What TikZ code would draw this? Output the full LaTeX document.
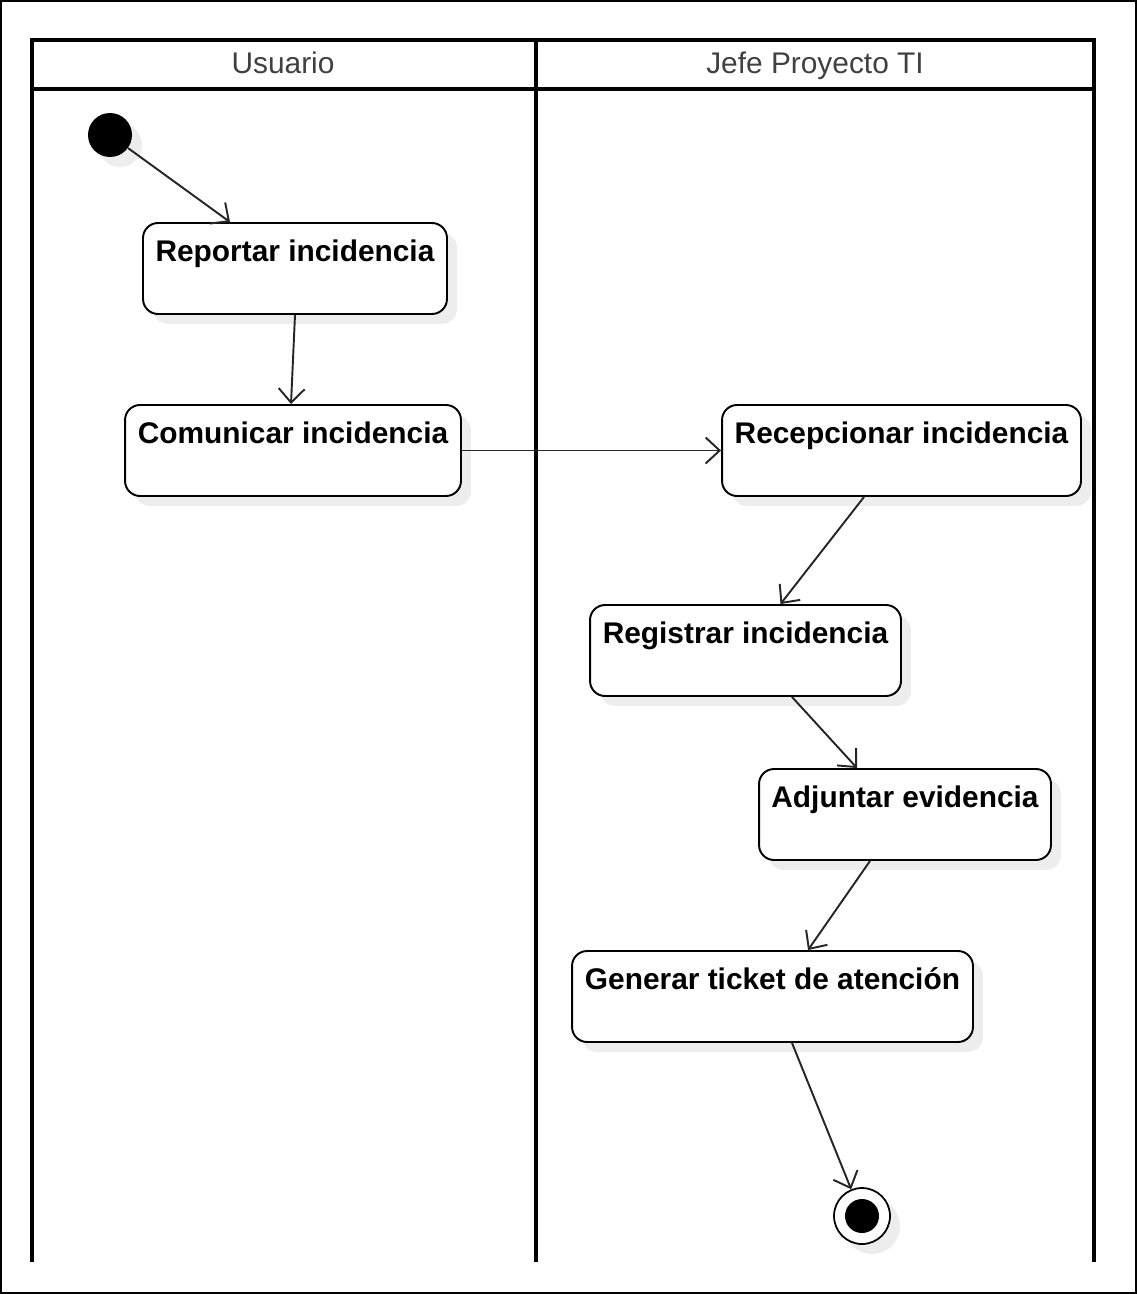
\documentclass[tikz,border=0pt]{standalone}
\usepackage{fontspec}
\setmainfont{Liberation Sans}
\usetikzlibrary{arrows.meta, positioning, shadows}

\tikzset{
	shade-box/.style={drop shadow={shadow xshift=0.2cm, shadow yshift=-0.2cm, fill=black!7, opacity=1}},
	act/.style={shape=rectangle, draw, rounded corners=0.3cm, line width=1.1pt, fill=white, minimum height=1.82cm, shade-box},
	act-text/.style={anchor=north, inner sep=0pt, yshift=-10pt, font=\fontsize{17}{20}\selectfont\bfseries},
	lane/.style={line width=2pt},
	lane-title/.style={font=\fontsize{17}{20}\selectfont, text=black!75, text height=12pt, text depth=3.5pt},
	flow/.style={line width=1.1pt, draw=black!85, -{Straight Barb[length=0.28cm, width=0.52cm]}},
	init-state/.style={shape=circle, fill=black, minimum size=0.88cm, inner sep=0pt, shade-box},
	final-state/.style={shape=circle, draw, line width=1pt, fill=white, minimum size=1.12cm, inner sep=0pt, shade-box},
}

\begin{document}
\begin{tikzpicture}[x=0.02cm, y=-0.02cm]
	\useasboundingbox (0,0) rectangle (1137,1294);
	\draw[line width=1.1pt] (1,1) rectangle (1136,1293);
	% Lanes:
	\draw[lane] (32,1262) -- (32,40) -- (1094,40) -- (1094,1262);
	\draw[lane] (32,89) -- (1094,89);
	\draw[lane] (536,40) -- (536,1262);
	\node[lane-title] (usr) at (283,66) {Usuario};
	\node[lane-title] (jefe) at (815,66) {Jefe Proyecto TI};
	% Nodes:
	\node[init-state] (ini) at (110,135) {};
	\node[act, minimum width=6.08cm, label={[act-text]north:Reportar incidencia}] (rep) at (295,268.5) {};
	\node[act, minimum width=6.72cm, label={[act-text]north:Comunicar incidencia}] (com) at (293,450.5) {};
	\node[act, minimum width=7.18cm, label={[act-text]north:Recepcionar incidencia}] (rec) at (901.5,450.5) {};
	\node[act, minimum width=6.22cm, label={[act-text]north:Registrar incidencia}] (reg) at (745.5,650.5) {};
	\node[act, minimum width=5.84cm, label={[act-text]north:Adjuntar evidencia}] (adj) at (905,814.5) {};
	\node[act, minimum width=8.02cm, label={[act-text]north:Generar ticket de atención}] (gen) at (772.5,996.5) {};
	\node[final-state] (fin) at (862,1216) {};
	\node[shape=circle, fill=black, minimum size=0.68cm, inner sep=0pt] (fin-dot) at (fin) {};
	% Flows:
	\draw[flow] (ini) -- ([xshift=-1.3cm]rep.north);
	\draw[flow] (rep.south) -- ([xshift=-0.04cm]com.north);
	\draw[flow] (com.east) -- (rec.west);
	\draw[flow] ([xshift=-0.75cm]rec.south) -- ([xshift=0.7cm]reg.north);
	\draw[flow] ([xshift=0.93cm]reg.south) -- ([xshift=-0.96cm]adj.north);
	\draw[flow] ([xshift=-0.7cm]adj.south) -- ([xshift=0.71cm]gen.north);
	\draw[flow] ([xshift=0.39cm]gen.south) -- (fin);
\end{tikzpicture}
\end{document}
